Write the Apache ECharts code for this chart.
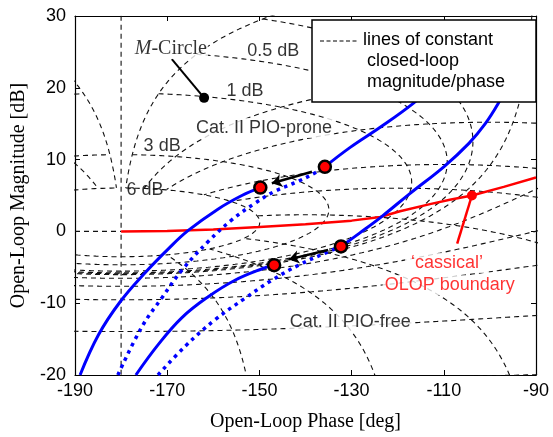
<!DOCTYPE html>
<html>
<head>
<meta charset="utf-8">
<script src="https://cdn.jsdelivr.net/npm/echarts@6/dist/echarts.min.js"></script>
<style>
  html, body { margin: 0; padding: 0; background: #fff; }
  #chart { width: 553px; height: 437px; }
</style>
</head>
<body>
<div id="chart"></div>
<script>
// Nichols grid levels (closed-loop magnitude in dB, closed-loop phase in deg)
const gainLevels = [6, 3, 1, 0.5, 0.25, 0, -1, -3, -6, -12, -20];
const phaseLevels = [-1, -5, -10, -20, -30, -50, -90, -120, -150,
  -210, -240, -270, -310, -330, -340, -350, -355, -359];
const verticalLevels = [-180, -360];   // closed-loop phase lines drawn over the full height
const gainRange = [-20, 6];            // phase lines run between these closed-loop gains (dB)
const zeroStub = [[-190, 0], [-180, 0]];

// open-loop curves [phase deg, magnitude dB]
const proneSolidLow = [[-188.9, -20], [-184.9, -14.4], [-180.2, -9.8], [-174.7, -5.7], [-169.7, -2.4],
  [-165.5, 0.1], [-159, 3.1], [-153.8, 5.0], [-149.8, 6.1]];
const proneDotted = [[-180.7, -20], [-175.5, -13.3], [-171.1, -9.2], [-166.8, -5.4], [-161.1, -1.4],
  [-156, 1.6], [-151, 3.9], [-146.6, 5.6], [-141.5, 7.0], [-137.5, 8.3], [-135.8, 9.0]];
const proneSolidHigh = [[-135.8, 9.0], [-130.3, 11.7], [-123.8, 14.5], [-116.7, 17.8], [-112, 20.5]];
const freeSolidLow = [[-176.8, -20], [-172, -15.8], [-166.8, -12.0], [-161.1, -9.1], [-155.3, -6.8],
  [-149.4, -5.2], [-146.8, -4.7]];
const freeDotted = [[-172, -20], [-166.1, -16.0], [-159.6, -12.3], [-153.1, -9.3], [-147.3, -6.8],
  [-141.2, -4.6], [-136, -3.1], [-132.3, -2.1]];
const freeSolidHigh = [[-132.3, -2.1], [-128.2, -0.2], [-123.4, 2.1], [-117.3, 5.3], [-110, 9],
  [-104.5, 12.3], [-101, 15], [-98.2, 17.8], [-96, 20.5]];
const olopBoundary = [[-180, 0], [-170, 0.05], [-160, 0.25], [-150, 0.6], [-140, 1.0], [-130, 1.5],
  [-123.8, 2.0], [-119.5, 2.8], [-113, 3.8], [-108.7, 4.4], [-103.9, 5.0], [-97, 6.2], [-90, 7.5]];
const pioDots = [[-149.8, 6.1], [-135.8, 9.0], [-146.8, -4.7], [-132.3, -2.1]];
const olopDot = [-103.9, 5.0];
const mCircleDot = [-162, 18.6];

const xTicks = { min: -190, max: -90, step: 20 };
const yTicks = { min: -20, max: 30, step: 10 };

// open-loop point for closed-loop T = m*e^(j*phi): G = T/(1-T)
function olPoint(m, phi) {
  const a = m * Math.cos(phi * Math.PI / 180);
  const b = m * Math.sin(phi * Math.PI / 180);
  const c = 1 - a, d = -b;
  const den = c * c + d * d;
  const gr = (a * c + b * d) / den;
  const gi = (b * c - a * d) / den;
  let ph = Math.atan2(gi, gr) * 180 / Math.PI;
  if (ph > 0) ph -= 360;
  return [ph, 20 * Math.log10(Math.hypot(gr, gi))];
}

function splitRuns(points) {
  const runs = [];
  let cur = [], prev = null;
  for (const p of points) {
    const ok = isFinite(p[0]) && isFinite(p[1]) && p[0] > -200 && p[0] < -80 && p[1] > -30 && p[1] < 40;
    if (!ok || (prev && Math.abs(p[0] - prev[0]) > 30)) {
      if (cur.length > 1) runs.push(cur);
      cur = [];
    }
    if (ok) cur.push(p);
    prev = ok ? p : null;
  }
  if (cur.length > 1) runs.push(cur);
  return runs;
}

const gridRuns = [];
// constant closed-loop gain lines, closed-loop phase from -1 to -359 deg
gainLevels.forEach(g => {
  const m = Math.pow(10, g / 20);
  const pts = [];
  for (let i = 20; i <= 7180; i++) pts.push(olPoint(m, -i * 0.05));
  gridRuns.push(...splitRuns(pts));
});
// constant closed-loop phase lines, closed-loop gain limited to gainRange
phaseLevels.forEach(phi => {
  const pts = [];
  for (let i = gainRange[0] * 100; i <= gainRange[1] * 100; i++) pts.push(olPoint(Math.pow(10, i / 2000), phi));
  gridRuns.push(...splitRuns(pts));
});
verticalLevels.forEach(phi => {
  const pts = [];
  for (let i = -3000; i <= 3000; i++) pts.push(olPoint(Math.pow(10, i / 1000), phi));
  gridRuns.push(...splitRuns(pts));
});
gridRuns.push(zeroStub);

const sans = 'Liberation Sans, Arial, sans-serif';
const serif = 'Liberation Serif, Times New Roman, serif';

const gridSeries = gridRuns.map(run => ({
  type: 'line', data: run, symbol: 'none', silent: true, z: 1,
  lineStyle: { color: '#111', width: 1.1, type: [5, 4] }
}));

function blue(data, dotted) {
  return {
    type: 'line', data: data, symbol: 'none', smooth: 0.4, z: 3,
    lineStyle: dotted ? { color: '#0000ff', width: 3.5, type: [3.5, 4.5] } : { color: '#0000ff', width: 3 }
  };
}

function note(x, y, text, opts) {
  return {
    value: [x, y],
    label: Object.assign({ formatter: text }, opts || {})
  };
}

const notes = [
  note(-169.2, 25.4, '{i|M}-Circle', {
    fontFamily: serif, fontSize: 20, backgroundColor: '#fff', padding: [0, 1],
    rich: { i: { fontFamily: serif, fontSize: 20, fontStyle: 'italic' } }
  }),
  note(-147.0, 25.1, '0.5 dB'),
  note(-153.1, 19.6, '1 dB'),
  note(-171.1, 11.9, '3 dB'),
  note(-174.8, 5.8, '6 dB'),
  note(-149.0, 14.4, 'Cat. II PIO-prone', { backgroundColor: '#fff', padding: [1, 2] }),
  note(-130.3, -12.6, 'Cat. II PIO-free', { backgroundColor: '#fff', padding: [1, 2] }),
  note(-109.3, -4.4, '\u2018cassical\u2019', { color: '#ff0000', backgroundColor: '#fff', padding: [1, 6] }),
  note(-108.7, -7.5, 'OLOP boundary', { color: '#ff0000', backgroundColor: '#fff', padding: [1, 2] })
];

const option = {
  animation: false,
  backgroundColor: '#fff',
  grid: { left: 75, top: 16, width: 461, height: 360 },
  xAxis: [{
    type: 'value', min: xTicks.min, max: xTicks.max, interval: xTicks.step,
    name: 'Open-Loop Phase [deg]', nameLocation: 'middle', nameGap: 37,
    nameTextStyle: { fontFamily: serif, fontSize: 20, color: '#000' },
    axisLine: { onZero: false, lineStyle: { color: '#000', width: 1.2 } },
    axisTick: { inside: true, length: 5, lineStyle: { color: '#000' } },
    axisLabel: { fontFamily: sans, fontSize: 18, color: '#000', margin: 7 },
    splitLine: { show: false }
  }, {
    type: 'value', position: 'top', min: xTicks.min, max: xTicks.max, interval: xTicks.step,
    axisLine: { onZero: false, lineStyle: { color: '#000', width: 1.2 } },
    axisTick: { inside: true, length: 5, lineStyle: { color: '#000' } },
    axisLabel: { show: false }, splitLine: { show: false }
  }],
  yAxis: [{
    type: 'value', min: yTicks.min, max: yTicks.max, interval: yTicks.step,
    name: 'Open-Loop Magnitude [dB]', nameLocation: 'middle', nameGap: 39,
    nameTextStyle: { fontFamily: serif, fontSize: 20, color: '#000' },
    axisLine: { onZero: false, lineStyle: { color: '#000', width: 1.2 } },
    axisTick: { inside: true, length: 5, lineStyle: { color: '#000' } },
    axisLabel: { fontFamily: sans, fontSize: 18, color: '#000', margin: 9 },
    splitLine: { show: false }
  }, {
    type: 'value', position: 'right', min: yTicks.min, max: yTicks.max, interval: yTicks.step,
    axisLine: { onZero: false, lineStyle: { color: '#000', width: 1.2 } },
    axisTick: { inside: true, length: 5, lineStyle: { color: '#000' } },
    axisLabel: { show: false }, splitLine: { show: false }
  }],
  series: gridSeries.concat([
    {
      type: 'line', data: olopBoundary, symbol: 'none', z: 3,
      lineStyle: { color: '#ff0000', width: 2.5 }
    },
    blue(proneSolidLow, false),
    blue(proneDotted, true),
    blue(proneSolidHigh, false),
    blue(freeSolidLow, false),
    blue(freeDotted, true),
    blue(freeSolidHigh, false),
    {
      type: 'lines', coordinateSystem: 'cartesian2d', z: 5,
      symbol: ['none', 'arrow'], symbolSize: 10,
      lineStyle: { color: '#000', width: 2.5, opacity: 1 },
      data: [
        { coords: [[-138.6, 8.3], [-147.3, 6.7]] },
        { coords: [[-135.1, -2.6], [-143.6, -3.9]] }
      ]
    },
    {
      type: 'lines', coordinateSystem: 'cartesian2d', z: 5, symbol: 'none',
      data: [
        { coords: [olopDot, [-107.1, -1.7]], lineStyle: { color: '#ff0000', width: 2.5, opacity: 1 } },
        { coords: [[-169, 24.0], mCircleDot], lineStyle: { color: '#000', width: 2, opacity: 1 } }
      ]
    },
    {
      type: 'scatter', data: pioDots, symbolSize: 12, z: 6,
      itemStyle: { color: '#ff0000', borderColor: '#000', borderWidth: 2.5, opacity: 1 }
    },
    {
      type: 'scatter', data: [olopDot], symbolSize: 10, z: 6,
      itemStyle: { color: '#ff0000', opacity: 1 }
    },
    {
      type: 'scatter', data: [mCircleDot], symbolSize: 10, z: 6,
      itemStyle: { color: '#000', opacity: 1 }
    },
    {
      type: 'scatter', data: notes, symbolSize: 1, z: 7, silent: true,
      itemStyle: { color: 'rgba(0,0,0,0)' },
      label: { show: true, position: 'inside', fontFamily: sans, fontSize: 18, color: '#000' }
    }
  ]),
  graphic: [
    {
      type: 'rect', z: 100, shape: { x: 312, y: 20, width: 224, height: 82 },
      style: { fill: '#fff', stroke: '#000', lineWidth: 1.5 }
    },
    {
      type: 'line', z: 101, shape: { x1: 320, y1: 41, x2: 358, y2: 41 },
      style: { stroke: '#000', lineWidth: 1, lineDash: [4, 2.5] }
    },
    {
      type: 'text', z: 101, left: 363, top: 31,
      style: { text: 'lines of constant', fontFamily: sans, fontSize: 18, fill: '#000' }
    },
    {
      type: 'text', z: 101, left: 367, top: 52,
      style: { text: 'closed-loop', fontFamily: sans, fontSize: 18, fill: '#000' }
    },
    {
      type: 'text', z: 101, left: 367, top: 73,
      style: { text: 'magnitude/phase', fontFamily: sans, fontSize: 18, fill: '#000' }
    }
  ]
};

const chart = echarts.init(document.getElementById('chart'));
chart.setOption(option);
</script>
</body>
</html>
